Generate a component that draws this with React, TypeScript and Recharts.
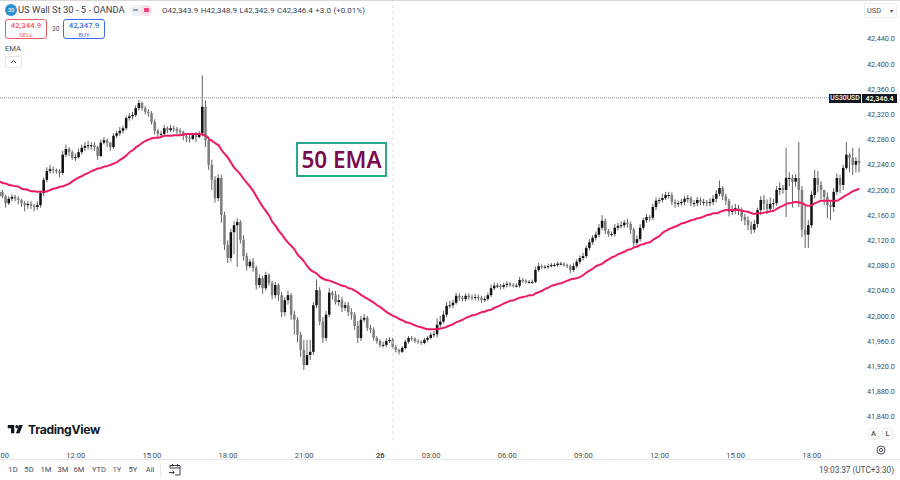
import { Bar, ComposedChart, Line, ReferenceLine, XAxis, YAxis } from "recharts";

const opens = [
  42190, 42197, 42190, 42179, 42186, 42189, 42186, 42184, 42179, 42176,
  42178, 42175, 42173, 42176, 42195, 42216, 42230, 42233, 42232, 42230,
  42227, 42256, 42265, 42260, 42251, 42252, 42260, 42267, 42270, 42271,
  42271, 42268, 42254, 42275, 42279, 42275, 42268, 42286, 42290, 42294,
  42298, 42314, 42317, 42319, 42330, 42338, 42330, 42324, 42322, 42308,
  42294, 42289, 42289, 42298, 42295, 42298, 42297, 42294, 42292, 42286,
  42283, 42281, 42287, 42284, 42290, 42332, 42279, 42240, 42216, 42187,
  42219, 42160, 42113, 42092, 42133, 42144, 42149, 42121, 42095, 42079,
  42086, 42076, 42049, 42060, 42044, 42065, 42052, 42033, 42049, 42033,
  42006, 42025, 42033, 42002, 41994, 41970, 41946, 41922, 41938, 41943,
  42017, 42041, 41991, 41965, 42002, 42037, 42033, 42022, 42025, 42013,
  42017, 42006, 42002, 41984, 41965, 41994, 41997, 41981, 41978, 41965,
  41960, 41954, 41954, 41960, 41962, 41951, 41946, 41943, 41949, 41959,
  41965, 41964, 41960, 41959, 41957, 41962, 41965, 41970, 41971, 41986,
  41991, 42002, 42016, 42017, 42021, 42032, 42029, 42027, 42032, 42030,
  42029, 42030, 42029, 42025, 42027, 42033, 42044, 42048, 42048, 42046,
  42049, 42051, 42049, 42048, 42048, 42057, 42056, 42054, 42054, 42054,
  42073, 42079, 42078, 42078, 42079, 42081, 42081, 42083, 42083, 42081,
  42079, 42073, 42079, 42086, 42092, 42095, 42108, 42117, 42124, 42129,
  42140, 42151, 42135, 42130, 42130, 42140, 42143, 42144, 42148, 42146,
  42137, 42116, 42122, 42140, 42152, 42157, 42156, 42173, 42183, 42184,
  42187, 42192, 42192, 42181, 42178, 42179, 42181, 42186, 42187, 42179,
  42179, 42184, 42181, 42181, 42179, 42181, 42186, 42194, 42203, 42190,
  42183, 42165, 42168, 42171, 42168, 42157, 42152, 42144, 42137, 42146,
  42168, 42184, 42178, 42170, 42178, 42179, 42200, 42203, 42200, 42219,
  42219, 42213, 42219, 42200, 42137, 42129, 42144, 42192, 42219, 42208,
  42200, 42189, 42176, 42173, 42197, 42219, 42208, 42235, 42256, 42251,
  42240, 42246,
];

const closes = [
  42197, 42190, 42179, 42186, 42189, 42186, 42184, 42179, 42176, 42178,
  42175, 42173, 42176, 42195, 42216, 42230, 42233, 42232, 42230, 42227,
  42256, 42265, 42260, 42251, 42252, 42260, 42267, 42270, 42271, 42271,
  42268, 42254, 42275, 42279, 42275, 42268, 42286, 42290, 42294, 42298,
  42314, 42317, 42319, 42330, 42338, 42330, 42324, 42322, 42308, 42294,
  42289, 42289, 42298, 42295, 42298, 42297, 42294, 42292, 42286, 42283,
  42281, 42287, 42284, 42289, 42332, 42279, 42240, 42216, 42187, 42219,
  42160, 42113, 42092, 42133, 42144, 42149, 42121, 42095, 42079, 42086,
  42076, 42049, 42060, 42044, 42065, 42052, 42033, 42049, 42033, 42006,
  42025, 42033, 42002, 41994, 41970, 41946, 41922, 41938, 41943, 42017,
  42041, 41991, 41965, 42002, 42037, 42033, 42022, 42025, 42013, 42017,
  42006, 42002, 41984, 41965, 41994, 41997, 41981, 41978, 41965, 41960,
  41954, 41954, 41960, 41962, 41951, 41946, 41943, 41949, 41959, 41965,
  41964, 41960, 41959, 41957, 41962, 41965, 41970, 41971, 41986, 41991,
  42002, 42016, 42017, 42021, 42032, 42029, 42027, 42032, 42030, 42029,
  42030, 42029, 42025, 42027, 42033, 42044, 42048, 42048, 42046, 42049,
  42051, 42049, 42048, 42048, 42057, 42056, 42054, 42054, 42054, 42073,
  42079, 42078, 42078, 42079, 42081, 42081, 42083, 42083, 42081, 42079,
  42073, 42079, 42086, 42092, 42095, 42108, 42117, 42124, 42129, 42140,
  42151, 42135, 42130, 42130, 42140, 42143, 42144, 42148, 42146, 42137,
  42116, 42122, 42140, 42152, 42157, 42156, 42173, 42183, 42184, 42187,
  42192, 42192, 42181, 42178, 42179, 42181, 42186, 42187, 42179, 42179,
  42184, 42181, 42181, 42179, 42181, 42186, 42194, 42203, 42190, 42183,
  42165, 42168, 42171, 42168, 42157, 42152, 42144, 42137, 42146, 42168,
  42184, 42178, 42170, 42178, 42179, 42200, 42203, 42200, 42219, 42219,
  42213, 42219, 42200, 42137, 42129, 42144, 42192, 42219, 42208, 42200,
  42189, 42176, 42173, 42197, 42219, 42208, 42235, 42256, 42251, 42240,
  42246, 42243,
];

const highs = [
  42202, 42200, 42192, 42190, 42193, 42192, 42190, 42186, 42182, 42182,
  42182, 42178, 42182, 42199, 42220, 42236, 42240, 42237, 42234, 42233,
  42262, 42272, 42268, 42263, 42258, 42266, 42272, 42276, 42278, 42276,
  42276, 42270, 42280, 42284, 42282, 42276, 42290, 42294, 42300, 42302,
  42318, 42322, 42324, 42334, 42343, 42340, 42333, 42328, 42325, 42312,
  42297, 42294, 42303, 42301, 42303, 42302, 42300, 42298, 42294, 42290,
  42288, 42291, 42292, 42294, 42382, 42342, 42285, 42248, 42222, 42225,
  42224, 42165, 42120, 42138, 42150, 42155, 42152, 42128, 42100, 42090,
  42092, 42080, 42066, 42064, 42070, 42068, 42056, 42054, 42052, 42038,
  42030, 42040, 42036, 42008, 41998, 41975, 41962, 41962, 41962, 42022,
  42058, 42046, 41998, 42008, 42044, 42040, 42040, 42034, 42030, 42022,
  42022, 42012, 42006, 41992, 42000, 42003, 42000, 41986, 41982, 41968,
  41963, 41959, 41964, 41966, 41965, 41954, 41948, 41952, 41962, 41968,
  41968, 41966, 41963, 41961, 41965, 41968, 41974, 41976, 41996, 42000,
  42008, 42022, 42024, 42026, 42037, 42036, 42032, 42036, 42036, 42034,
  42035, 42034, 42032, 42031, 42037, 42050, 42053, 42052, 42051, 42053,
  42055, 42054, 42052, 42052, 42062, 42060, 42058, 42057, 42058, 42078,
  42084, 42082, 42081, 42083, 42084, 42084, 42086, 42086, 42085, 42083,
  42082, 42084, 42090, 42096, 42100, 42112, 42122, 42128, 42134, 42146,
  42160, 42155, 42138, 42134, 42146, 42148, 42150, 42152, 42154, 42150,
  42140, 42128, 42146, 42156, 42162, 42160, 42178, 42188, 42188, 42194,
  42197, 42197, 42196, 42185, 42183, 42186, 42191, 42192, 42190, 42184,
  42189, 42188, 42186, 42184, 42187, 42192, 42200, 42215, 42206, 42194,
  42186, 42176, 42178, 42176, 42172, 42162, 42158, 42150, 42152, 42172,
  42190, 42192, 42185, 42188, 42186, 42206, 42212, 42208, 42267, 42228,
  42224, 42225, 42276, 42206, 42178, 42152, 42198, 42232, 42230, 42214,
  42200, 42196, 42182, 42203, 42226, 42224, 42240, 42276, 42258, 42267,
  42252, 42267,
];

const lows = [
  42186, 42187, 42172, 42176, 42182, 42182, 42177, 42173, 42166, 42170,
  42170, 42166, 42168, 42172, 42190, 42212, 42226, 42226, 42226, 42220,
  42224, 42252, 42254, 42248, 42246, 42250, 42256, 42262, 42264, 42264,
  42262, 42248, 42252, 42272, 42268, 42262, 42265, 42282, 42286, 42290,
  42295, 42310, 42312, 42316, 42326, 42326, 42320, 42316, 42304, 42288,
  42284, 42284, 42286, 42290, 42292, 42292, 42289, 42287, 42279, 42276,
  42275, 42279, 42276, 42282, 42285, 42268, 42232, 42200, 42180, 42182,
  42148, 42105, 42084, 42086, 42098, 42078, 42115, 42088, 42072, 42076,
  42070, 42042, 42045, 42035, 42040, 42048, 42026, 42028, 42024, 41998,
  42000, 42018, 41994, 41970, 41958, 41935, 41914, 41922, 41930, 41938,
  42012, 41985, 41957, 41960, 41998, 42026, 42018, 42016, 42006, 42008,
  42000, 41994, 41978, 41957, 41960, 41990, 41976, 41973, 41961, 41956,
  41950, 41950, 41951, 41957, 41948, 41942, 41939, 41941, 41947, 41956,
  41960, 41957, 41956, 41954, 41955, 41959, 41963, 41966, 41966, 41982,
  41988, 41998, 42012, 42012, 42018, 42024, 42023, 42023, 42026, 42025,
  42025, 42024, 42021, 42022, 42024, 42030, 42041, 42044, 42042, 42043,
  42045, 42046, 42045, 42045, 42045, 42052, 42051, 42051, 42051, 42052,
  42070, 42075, 42075, 42075, 42077, 42078, 42078, 42080, 42078, 42076,
  42068, 42070, 42076, 42082, 42088, 42092, 42104, 42113, 42120, 42125,
  42136, 42130, 42126, 42126, 42126, 42136, 42139, 42140, 42140, 42130,
  42110, 42111, 42118, 42136, 42148, 42150, 42152, 42168, 42178, 42180,
  42184, 42186, 42176, 42172, 42173, 42175, 42176, 42180, 42174, 42173,
  42174, 42176, 42175, 42174, 42174, 42176, 42180, 42190, 42184, 42176,
  42158, 42160, 42162, 42160, 42150, 42144, 42136, 42130, 42132, 42140,
  42160, 42168, 42162, 42166, 42170, 42175, 42192, 42194, 42157, 42206,
  42172, 42205, 42173, 42125, 42108, 42108, 42140, 42186, 42196, 42185,
  42176, 42155, 42152, 42165, 42192, 42195, 42200, 42232, 42228, 42224,
  42228, 42228,
];

const ema50 = [
  42213, 42211, 42210, 42208, 42207, 42206, 42205, 42202, 42201, 42200,
  42198, 42198, 42197, 42197, 42197, 42198, 42200, 42202, 42203, 42205,
  42206, 42208, 42210, 42214, 42217, 42220, 42222, 42225, 42227, 42230,
  42232, 42234, 42235, 42237, 42238, 42240, 42242, 42244, 42248, 42251,
  42255, 42260, 42263, 42268, 42271, 42275, 42278, 42280, 42282, 42283,
  42283, 42284, 42286, 42286, 42286, 42287, 42287, 42287, 42288, 42289,
  42289, 42289, 42289, 42289, 42288, 42286, 42281, 42278, 42274, 42271,
  42263, 42257, 42251, 42243, 42235, 42230, 42224, 42217, 42211, 42205,
  42198, 42189, 42181, 42173, 42166, 42159, 42149, 42143, 42135, 42129,
  42122, 42116, 42111, 42105, 42097, 42092, 42086, 42079, 42073, 42070,
  42067, 42062, 42059, 42057, 42056, 42054, 42052, 42050, 42048, 42047,
  42044, 42043, 42040, 42037, 42033, 42030, 42027, 42024, 42021, 42017,
  42014, 42010, 42006, 42003, 42000, 41998, 41995, 41993, 41990, 41989,
  41987, 41985, 41983, 41982, 41980, 41979, 41979, 41979, 41979, 41980,
  41981, 41983, 41985, 41987, 41990, 41992, 41994, 41997, 41999, 42001,
  42002, 42004, 42006, 42007, 42009, 42010, 42013, 42015, 42017, 42020,
  42022, 42024, 42025, 42027, 42029, 42030, 42031, 42033, 42033, 42036,
  42038, 42040, 42043, 42045, 42048, 42049, 42051, 42052, 42054, 42056,
  42058, 42059, 42060, 42062, 42065, 42069, 42072, 42075, 42079, 42081,
  42083, 42087, 42090, 42093, 42095, 42098, 42100, 42102, 42105, 42106,
  42109, 42110, 42113, 42114, 42116, 42117, 42121, 42124, 42127, 42132,
  42135, 42138, 42140, 42142, 42144, 42147, 42148, 42150, 42152, 42153,
  42155, 42156, 42158, 42160, 42161, 42163, 42163, 42165, 42167, 42168,
  42168, 42168, 42168, 42168, 42167, 42166, 42165, 42163, 42162, 42163,
  42163, 42164, 42165, 42166, 42167, 42170, 42173, 42175, 42178, 42179,
  42180, 42181, 42180, 42179, 42176, 42175, 42176, 42179, 42181, 42183,
  42183, 42183, 42183, 42183, 42183, 42186, 42189, 42192, 42195, 42198,
  42200, 42202,
];

const timeTickIndex = [0, 24, 48, 72, 96, 120, 136, 160, 184, 208, 232, 256];
const timeTickLabels = ["09:00", "12:00", "15:00", "18:00", "21:00", "26", "03:00", "06:00", "09:00", "12:00", "15:00", "18:00"];
const priceTicks = [42440, 42400, 42360, 42320, 42280, 42240, 42200, 42160, 42120, 42080, 42040, 42000, 41960, 41920, 41880, 41840];
const lastPrice = 42346.4;
const rangeButtons = ["1D", "5D", "1M", "3M", "6M", "YTD", "1Y", "5Y", "All"];
const rangeButtonX = [13, 29, 46, 63, 79, 99, 117, 133, 150];

const candles = closes.map((close, i) => ({
  i,
  open: opens[i],
  close,
  high: highs[i],
  low: lows[i],
  range: [lows[i], highs[i]],
  ema: ema50[i],
}));

const FONT = "Roboto, sans-serif";

function Candle(props: any) {
  const { x, y, width, height, payload } = props;
  const perPoint = height / (payload.high - payload.low);
  const up = payload.close >= payload.open;
  const top = y + (payload.high - Math.max(payload.open, payload.close)) * perPoint;
  const bodyH = Math.max(Math.abs(payload.close - payload.open) * perPoint, 1);
  return (
    <g>
      <line x1={x + width / 2} x2={x + width / 2} y1={y} y2={y + height} stroke="#626262" strokeWidth={1} />
      <rect x={x} y={top} width={width} height={bodyH} fill={up ? "#111111" : "#7d7d7d"} />
    </g>
  );
}

function TimeTick(props: any) {
  const { x, y, payload } = props;
  const label = timeTickLabels[timeTickIndex.indexOf(payload.value)];
  return (
    <text x={x} y={y + 10} textAnchor="middle" fontSize={7.6} fontFamily={FONT} fill="#4a4d55" fontWeight={label === "26" ? 700 : 400}>
      {label}
    </text>
  );
}

function Abs({ x, y, w, h, style, children }: any) {
  return (
    <div style={{ position: "absolute", left: x, top: y, width: w, height: h, boxSizing: "border-box", whiteSpace: "nowrap", ...style }}>
      {children}
    </div>
  );
}

function PriceBox({ x, color, price, side }: any) {
  return (
    <Abs
      x={x}
      y={19}
      w={42}
      h={20}
      style={{ border: `1px solid ${color}`, borderRadius: 3, color, textAlign: "center", lineHeight: 1 }}
    >
      <div style={{ fontSize: 7.8, fontWeight: 500, marginTop: 2 }}>{price}</div>
      <div style={{ fontSize: 6, marginTop: 2 }}>{side}</div>
    </Abs>
  );
}

export default function App() {
  return (
    <div style={{ position: "absolute", left: 0, top: 0, width: 900, height: 480, overflow: "hidden", background: "#fff", fontFamily: FONT, color: "#4a4d55" }}>
      <div style={{ position: "absolute", left: -2, top: 0 }}>
        <ComposedChart width={904} height={460} data={candles} margin={{ top: 0, right: 0, bottom: 0, left: 0 }}>
          <XAxis
            dataKey="i"
            type="category"
            ticks={timeTickIndex}
            interval={0}
            tick={<TimeTick />}
            tickLine={false}
            axisLine={false}
            height={20}
          />
          <YAxis
            orientation="right"
            domain={[41803, 42501.6]}
            allowDataOverflow
            ticks={priceTicks}
            interval={0}
            width={41}
            tickLine={false}
            axisLine={false}
            tickSize={0}
            tickMargin={6}
            tick={{ fontSize: 7.3, fontFamily: FONT, fill: "#4a4d55", textAnchor: "start" }}
            tickFormatter={(v: number) => v.toLocaleString("en-US", { minimumFractionDigits: 1 })}
          />
          <ReferenceLine x={124} stroke="#d9dcec" strokeDasharray="3 3" />
          <ReferenceLine y={lastPrice} stroke="#8a8d94" strokeDasharray="1 1" />
          <Bar dataKey="range" barSize={2.5} shape={<Candle />} isAnimationActive={false} />
          <Line dataKey="ema" type="monotone" dot={false} stroke="#ee1b62" strokeWidth={2} isAnimationActive={false} />
        </ComposedChart>
      </div>

      {/* header */}
      <Abs x={0} y={0} w={900} h={1} style={{ background: "#d9d9d9" }} />
      <Abs x={5} y={4} w={12} h={12} style={{ borderRadius: 6, background: "#2d8fd0", color: "#fff", fontSize: 6, textAlign: "center", lineHeight: "12px" }}>30</Abs>
      <Abs x={18} y={3} style={{ fontSize: 9.4, lineHeight: "14px", color: "#3a3e49" }}>US Wall St 30 - 5 - OANDA</Abs>
      <Abs x={130} y={5} w={22} h={11} style={{ borderRadius: 6, background: "#eef0f3" }} />
      <Abs x={141} y={5} w={11} h={11} style={{ borderRadius: 6, background: "#fbdde6" }} />
      <Abs x={133} y={9} w={5} h={2} style={{ background: "#9a9ca3" }} />
      <Abs x={144} y={8} w={5} h={4} style={{ background: "#e8467c" }} />
      <Abs x={162} y={4} style={{ fontSize: 8, lineHeight: "13px", color: "#3a3e49", wordSpacing: 0.5 }}>O42,343.9 H42,348.9 L42,342.9 C42,346.4 +3.0 (+0.01%)</Abs>
      <PriceBox x={5} color="#ef5a62" price="42,344.9" side="SELL" />
      <Abs x={52} y={24} style={{ fontSize: 6.5, lineHeight: "10px" }}>30</Abs>
      <PriceBox x={63} color="#3d6cf2" price="42,347.9" side="BUY" />
      <Abs x={5} y={43} style={{ fontSize: 7.6, lineHeight: "11px" }}>EMA</Abs>
      <Abs x={5} y={56} w={17} h={12} style={{ border: "1px solid #e4e5e8", borderRadius: 2 }}>
        <svg width={15} height={10} style={{ display: "block" }}>
          <path d="M5 6 L7.5 3.5 L10 6" fill="none" stroke="#2a2e39" strokeWidth={1} />
        </svg>
      </Abs>

      {/* annotation */}
      <Abs x={296} y={142} w={91} h={35} style={{ border: "2px solid #2aa78f", color: "#7a0b50", fontSize: 22.5, fontFamily: "'Noto Sans', sans-serif", fontWeight: 600, textAlign: "center", lineHeight: "31px" }}>
        50 EMA
      </Abs>

      {/* logo */}
      <svg width={17} height={9} viewBox="0 0 19 11" style={{ position: "absolute", left: 7, top: 425 }}>
        <path d="M0 0 H8 V10 H4 V4 H0 Z" fill="#131722" />
        <circle cx={11.3} cy={2} r={2} fill="#131722" />
        <path d="M14 0 H18.5 L14.5 10 H10 Z" fill="#131722" />
      </svg>
      <Abs x={28} y={421} style={{ fontSize: 12.2, fontWeight: 700, lineHeight: "18px", color: "#131722", fontFamily: "Inter, sans-serif", letterSpacing: -0.3 }}>TradingView</Abs>

      {/* price axis decorations */}
      <Abs x={864} y={3} w={33} h={15} style={{ border: "1px solid #eceded", borderRadius: 2, fontSize: 7.4, lineHeight: "13px", paddingLeft: 2 }}>
        USD<span style={{ position: "absolute", right: 3, top: 0, fontSize: 6 }}>▾</span>
      </Abs>
      <Abs x={829} y={94} w={32} h={9} style={{ background: "#131722", color: "#fff", fontSize: 6.8, textAlign: "center", lineHeight: "9px", fontWeight: 500 }}>US30USD</Abs>
      <Abs x={862} y={94} w={35} h={9} style={{ background: "#131722", color: "#fff", fontSize: 7.2, textAlign: "center", lineHeight: "9px", fontWeight: 500 }}>42,346.4</Abs>
      <Abs x={868} y={428} w={11} h={12} style={{ border: "1px solid #eceded", borderRadius: 2, fontSize: 7.5, fontWeight: 500, textAlign: "center", lineHeight: "10px" }}>A</Abs>
      <Abs x={882} y={428} w={11} h={12} style={{ border: "1px solid #eceded", borderRadius: 2, fontSize: 7.5, fontWeight: 500, textAlign: "center", lineHeight: "10px" }}>L</Abs>
      <svg width={12} height={12} style={{ position: "absolute", left: 875, top: 444 }}>
        <circle cx={6} cy={6} r={4} fill="none" stroke="#4a4d55" strokeWidth={1} />
        <circle cx={6} cy={6} r={1.6} fill="none" stroke="#4a4d55" strokeWidth={1} />
      </svg>

      {/* bottom toolbar */}
      <Abs x={0} y={459} w={900} h={1} style={{ background: "#e6e7ea" }} />
      {rangeButtons.map((label, i) => (
        <Abs key={label} x={rangeButtonX[i] - 15} y={464} w={30} style={{ fontSize: 7.6, lineHeight: "12px", textAlign: "center" }}>{label}</Abs>
      ))}
      <Abs x={160} y={463} w={1} h={14} style={{ background: "#e6e7ea" }} />
      <svg width={14} height={14} style={{ position: "absolute", left: 168, top: 463 }}>
        <path d="M2 5 V2.5 H12 V12 H7 M2 5 H12 M4.5 1 V3.5 M9.5 1 V3.5 M1 9.5 H6 M4.5 7.8 L6.3 9.5 L4.5 11.2" fill="none" stroke="#3a3e49" strokeWidth={1} />
      </svg>
      <Abs x={794} y={464} w={100} style={{ fontSize: 8.2, lineHeight: "12px", textAlign: "right" }}>19:03:37 (UTC+3:30)</Abs>
    </div>
  );
}
